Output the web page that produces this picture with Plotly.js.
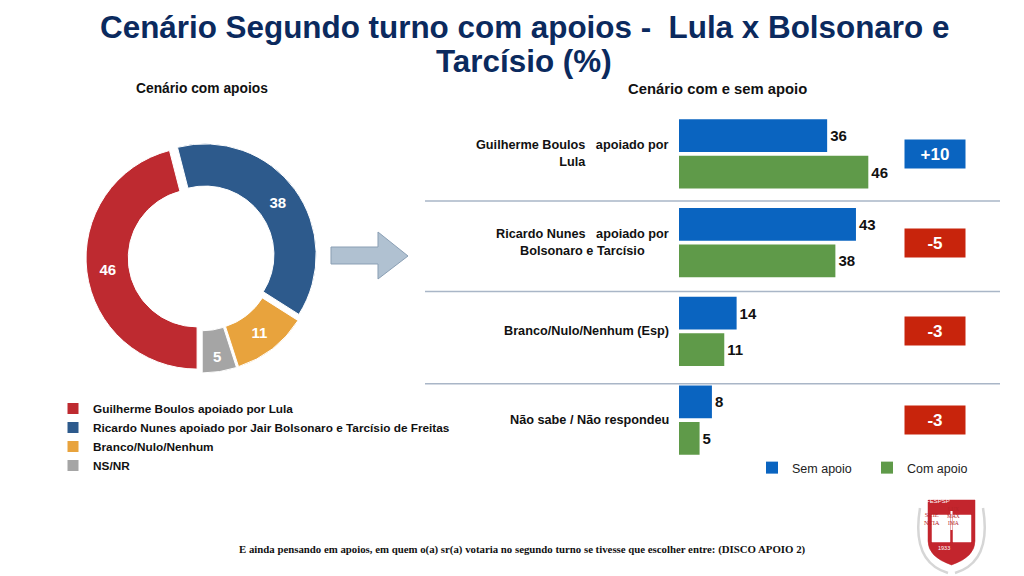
<!DOCTYPE html>
<html>
<head>
<meta charset="utf-8">
<script src="https://cdn.plot.ly/plotly-3.0.1.min.js"></script>
<style>html,body{margin:0;padding:0;background:#fff;}#chart{width:1024px;height:576px;}</style>
</head>
<body>
<div id="chart"></div>
<script>
// ---- data ----
const donutLabels = ["Guilherme Boulos apoiado por Lula", "Ricardo Nunes apoiado por Jair Bolsonaro e Tarcísio de Freitas", "Branco/Nulo/Nenhum", "NS/NR"];
const donutValues = [46, 38, 11, 5];
const donutColors = ["#be2a30", "#2d5a8c", "#e8a33d", "#a5a5a5"];

const categories = ["Guilherme Boulos\u00a0\u00a0 apoiado por<br>Lula", "Ricardo Nunes\u00a0\u00a0 apoiado por<br>Bolsonaro e Tarcísio", "Branco/Nulo/Nenhum (Esp)", "Não sabe / Não respondeu"];
const semApoio = [36, 43, 14, 8];
const comApoio = [46, 38, 11, 5];
const seriesNames = ["Sem apoio", "Com apoio"];

const titleLines = ["Cenário Segundo turno com apoios -\u00a0 Lula x Bolsonaro e", "Tarcísio (%)"];
const leftSubtitle = "Cenário com apoios";
const rightSubtitle = "Cenário com e sem apoio";
const footerText = "E ainda pensando em apoios, em quem o(a) sr(a) votaria no segundo turno se tivesse que escolher entre: (DISCO APOIO 2)";

// ---- helpers (pixel -> paper) ----
const W = 1024, H = 576;
const px = x => x / W;
const py = y => 1 - y / H;
const pt = (x, y) => px(x).toFixed(5) + ',' + py(y).toFixed(5);
function poly(points) {
  return points.map((p, i) => (i === 0 ? 'M' : 'L') + pt(p[0], p[1])).join(' ') + ' Z';
}

const FONT = "Liberation Sans, Arial, sans-serif";

const pie = {
  type: 'pie',
  labels: donutLabels,
  values: donutValues,
  sort: false,
  direction: 'clockwise',
  rotation: 180,
  hole: 0.62,
  pull: donutValues.map(() => 0.04),
  marker: { colors: donutColors, line: { color: '#ffffff', width: 1 } },
  textinfo: 'value',
  textposition: 'inside',
  insidetextorientation: 'horizontal',
  textfont: { family: FONT, size: 15, color: '#ffffff', weight: 'bold' },
  domain: { x: [px(86), px(317)], y: [py(373), py(142)] },
  legend: 'legend',
  hoverinfo: 'label+value'
};

const barSem = {
  type: 'bar', orientation: 'h', name: seriesNames[0],
  y: categories, x: semApoio,
  marker: { color: '#0a64c0' },
  text: semApoio.map(String), textposition: 'outside', cliponaxis: false, constraintext: 'none',
  outsidetextfont: { family: FONT, size: 15, color: '#111111', weight: 'bold' },
  xaxis: 'x', yaxis: 'y', legend: 'legend2'
};
const barCom = {
  type: 'bar', orientation: 'h', name: seriesNames[1],
  y: categories, x: comApoio,
  marker: { color: '#5f9a49' },
  text: comApoio.map(String), textposition: 'outside', cliponaxis: false, constraintext: 'none',
  outsidetextfont: { family: FONT, size: 15, color: '#111111', weight: 'bold' },
  xaxis: 'x', yaxis: 'y', legend: 'legend2'
};

const annotations = [];
// main title (two lines)
[27, 62].forEach((yy, i) => {
  annotations.push({ xref: 'paper', yref: 'paper', x: px(524), y: py(yy), text: titleLines[i], showarrow: false, xanchor: 'center', yanchor: 'middle',
    font: { family: FONT, size: 31.4, color: '#0b2a5e', weight: 'bold' } });
});
// subtitles
annotations.push({ xref: 'paper', yref: 'paper', x: px(202), y: py(88), text: leftSubtitle, showarrow: false, xanchor: 'center', yanchor: 'middle', font: { family: FONT, size: 13.8, color: '#111', weight: 'bold' } });
annotations.push({ xref: 'paper', yref: 'paper', x: px(717), y: py(89), text: rightSubtitle, showarrow: false, xanchor: 'center', yanchor: 'middle', font: { family: FONT, size: 14.8, color: '#111', weight: 'bold' } });
// category labels
categories.forEach(c => {
  annotations.push({ xref: 'paper', yref: 'y', x: px(671), y: c, text: c, showarrow: false, xanchor: 'right', yanchor: 'middle', align: 'center', font: { family: FONT, size: 12.7, color: '#111', weight: 'bold' } });
});
// difference boxes
categories.forEach((c, i) => {
  const d = comApoio[i] - semApoio[i];
  annotations.push({ xref: 'paper', yref: 'y', x: px(935), y: c, text: (d > 0 ? '+' : '') + d, showarrow: false, xanchor: 'center', yanchor: 'middle',
    width: 58, height: 26, borderpad: 1, bgcolor: d > 0 ? '#0a64c0' : '#c8240c',
    font: { family: FONT, size: 17, color: '#ffffff', weight: 'bold' } });
});
// footer
annotations.push({ xref: 'paper', yref: 'paper', x: px(522), y: py(549), text: footerText, showarrow: false, xanchor: 'center', yanchor: 'middle', font: { family: 'Liberation Serif, Times New Roman, serif', size: 10.8, color: '#111', weight: 'bold' } });
// logo texts
annotations.push({ xref: 'paper', yref: 'paper', x: px(951.5), y: py(506), text: 'FESPSP', showarrow: false, font: { family: FONT, size: 6, color: '#ffffff' } });
annotations.push({ xref: 'paper', yref: 'paper', x: px(941.5), y: py(528), text: 'SCIE<br>NTIA', showarrow: false, font: { family: 'Liberation Serif, serif', size: 6.5, color: '#b52229' } });
annotations.push({ xref: 'paper', yref: 'paper', x: px(962), y: py(528), text: 'LUX<br>MAX<br>IMA', showarrow: false, font: { family: 'Liberation Serif, serif', size: 5.5, color: '#b52229' } });
annotations.push({ xref: 'paper', yref: 'paper', x: px(951.5), y: py(553), text: '1933', showarrow: false, font: { family: FONT, size: 5.5, color: '#ffffff' } });

const shapes = [];
// separators between categories
[0.53, 1.55, 2.59].forEach(v => {
  shapes.push({ type: 'line', xref: 'paper', yref: 'y', x0: px(425), x1: px(1000), y0: v, y1: v, line: { color: '#a9b6c7', width: 1.5 } });
});
// arrow
shapes.push({ type: 'path', xref: 'paper', yref: 'paper',
  path: poly([[331, 247], [378, 247], [378, 232], [408, 256], [378, 279], [378, 264], [331, 264]]),
  fillcolor: '#b0c1d1', line: { color: '#8a9fb4', width: 1 } });
// logo: wreath arcs
shapes.push({ type: 'path', xref: 'paper', yref: 'paper', path: 'M' + pt(920, 508) + ' Q' + pt(911, 562) + ' ' + pt(948, 573), line: { color: '#d6d6d6', width: 2.5 } });
shapes.push({ type: 'path', xref: 'paper', yref: 'paper', path: 'M' + pt(983, 508) + ' Q' + pt(992, 562) + ' ' + pt(955, 573), line: { color: '#d6d6d6', width: 2.5 } });
// shield
shapes.push({ type: 'path', xref: 'paper', yref: 'paper',
  path: 'M' + pt(928, 500) + ' L' + pt(975, 500) + ' L' + pt(975, 541) + ' Q' + pt(975, 557) + ' ' + pt(951.5, 565) + ' Q' + pt(928, 557) + ' ' + pt(928, 541) + ' Z',
  fillcolor: '#c3252d', line: { color: '#c3252d', width: 0.5 } });
// book pages
shapes.push({ type: 'rect', xref: 'paper', yref: 'paper', x0: px(932), x1: px(950), y0: py(542), y1: py(515), fillcolor: '#ffffff', line: { color: '#ffffff', width: 0.5 } });
shapes.push({ type: 'rect', xref: 'paper', yref: 'paper', x0: px(953), x1: px(971), y0: py(542), y1: py(515), fillcolor: '#ffffff', line: { color: '#ffffff', width: 0.5 } });
// torch
shapes.push({ type: 'rect', xref: 'paper', yref: 'paper', x0: px(950.5), x1: px(952.5), y0: py(530), y1: py(511), fillcolor: '#ffffff', line: { width: 0 } });

const layout = {
  width: W, height: H,
  margin: { l: 0, r: 0, t: 0, b: 0 },
  paper_bgcolor: '#ffffff', plot_bgcolor: 'rgba(0,0,0,0)',
  barmode: 'group', bargap: 0.18, bargroupgap: 0.1,
  xaxis: { domain: [px(679), px(1000)], range: [0, 78], visible: false, fixedrange: true },
  yaxis: { domain: [py(464.5), py(109.5)], type: 'category', range: [3.5, -0.5], visible: false, fixedrange: true },
  legend: { x: px(53), y: py(394), xanchor: 'left', yanchor: 'top', orientation: 'v', bgcolor: 'rgba(0,0,0,0)', itemwidth: 30,
    font: { family: FONT, size: 11.8, color: '#111', weight: 'bold' }, tracegroupgap: 0 },
  legend2: { x: px(752), y: py(468), xanchor: 'left', yanchor: 'middle', orientation: 'h', bgcolor: 'rgba(0,0,0,0)', itemwidth: 30, entrywidth: 70,
    font: { family: FONT, size: 12.5, color: '#222' } },
  annotations: annotations,
  shapes: shapes,
  showlegend: true
};

Plotly.newPlot('chart', [pie, barSem, barCom], layout, { displayModeBar: false, staticPlot: true });
</script>
</body>
</html>
